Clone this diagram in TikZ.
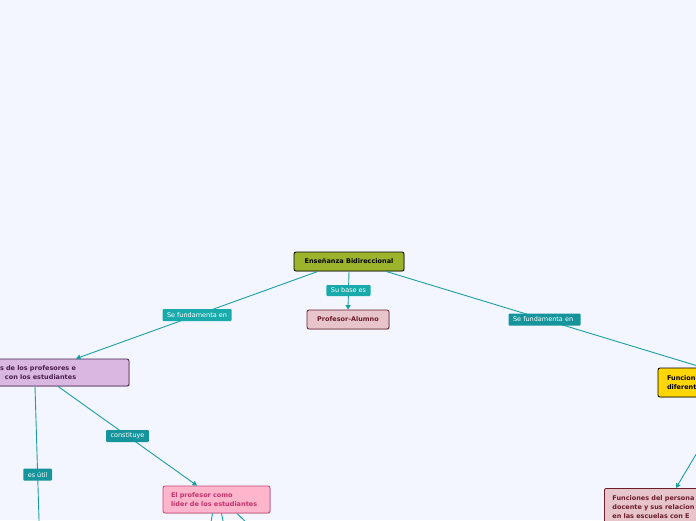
\documentclass[tikz,border=0pt]{standalone}
\usepackage{fontspec}
\setmainfont{DejaVu Sans}
\usetikzlibrary{arrows.meta, positioning, shadows}
\definecolor{bgblue}{HTML}{F3F6FE}
\definecolor{linkteal}{HTML}{1B9FA5}
\definecolor{tagteal}{HTML}{19AAAB}
\definecolor{tagdark}{HTML}{16949C}
\definecolor{olive}{HTML}{9CB42C}
\definecolor{rosefill}{HTML}{E8C5CB}
\definecolor{roseline}{HTML}{6A1D2B}
\definecolor{lilac}{HTML}{D9B7E1}
\definecolor{plum}{HTML}{4A1E4E}
\definecolor{gold}{HTML}{FFD600}
\definecolor{pinkfill}{HTML}{FFB5CB}
\definecolor{pinkline}{HTML}{C84674}
\definecolor{pinktext}{HTML}{C2336E}

\begin{document}
\begin{tikzpicture}[x=1pt, y=-1pt, >={Triangle[length=4.5pt, width=5pt]},
        topic/.style={draw, line width=0.8pt, rounded corners=2pt, align=left, inner ysep=2pt,
            font=\fontsize{6.5}{9}\selectfont\bfseries,
            drop shadow={shadow xshift=0.8pt, shadow yshift=-0.8pt, opacity=0.3}},
        tag/.style={fill=tagteal, text=white, rounded corners=1pt, inner xsep=4.5pt, inner ysep=1pt,
            minimum height=12pt, font=\fontsize{6.5}{8}\selectfont},
        link/.style={draw=linkteal, line width=0.9pt}]
        \fill[bgblue] (0,0) rectangle (696,520);
        \useasboundingbox (0,0) rectangle (696,520);
        \clip (0,0) rectangle (696,520);
        \node[topic, fill=olive, minimum width=110pt, minimum height=19pt] (root) at (349,261.5) {Enseñanza Bidireccional};
        \node[topic, fill=rosefill, draw=roseline, text=roseline, minimum width=82pt, minimum height=19pt] (pa) at (348,319.5) {Profesor-Alumno};
        \node[topic, fill=lilac, draw=plum, text=plum, text width=120pt, inner xsep=9pt, minimum height=27pt] (rel) at (60,372.5) {s de los profesores e\\\hspace*{5pt}con los estudiantes};
        \node[topic, fill=gold, text width=126pt, inner xsep=9pt, minimum height=29pt] (fun) at (730,382.5) {Funcion\\diferent};
        \node[topic, fill=rosefill, draw=roseline, text=roseline, text width=124pt, inner xsep=8pt, inner ysep=7pt, anchor=north west] (doc) at (604,488) {Funciones del persona\\docente y sus relacion\\en las escuelas con E};
        \node[topic, fill=pinkfill, draw=pinkline, text=pinktext, text width=91pt, inner xsep=8pt, minimum height=27pt] (lid) at (216.5,499.5) {El profesor como\\líder de los estudiantes};
        \coordinate (util) at (40.5,570);
        \coordinate (c1) at (204.5,560);
        \coordinate (c2) at (231,560);
        \coordinate (c3) at (284,560);
        \draw[link, ->] (root.south) -- (pa.north) node[tag, midway, minimum height=11pt] {Su base es};
        \draw[link, ->] ([xshift=-31pt]root.south) -- ([xshift=16pt]rel.north) node[tag, midway] {Se fundamenta en};
        \draw[link, ->] ([xshift=37pt]root.south) -- ([xshift=-27pt]fun.north) node[tag, midway, fill=tagdark, text width=63pt, align=left] {Se fundamenta en};
        \draw[link, ->] (fun.south) -- ([xshift=72pt]doc.north west);
        \draw[link, ->] ([xshift=-25pt]rel.south) -- (util) node[tag, pos=0.48, fill=tagdark] {es útil};
        \draw[link, ->] ([xshift=-2pt]rel.south) -- ([xshift=-19.5pt]lid.north) node[tag, midway, fill=tagdark] {constituye};
        \foreach \c/\dx in {c1/-4, c2/5, c3/20.5} \draw[link, ->] ([xshift=\dx pt]lid.south) -- (\c);
    \end{tikzpicture}
\end{document}
